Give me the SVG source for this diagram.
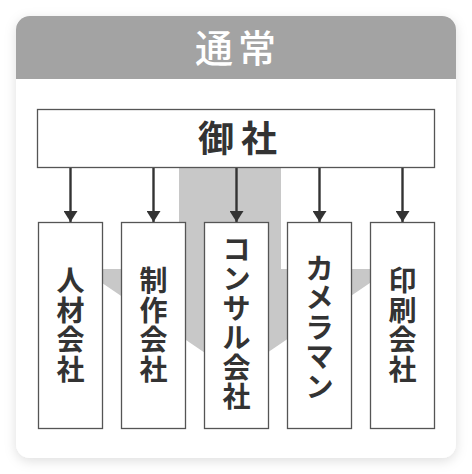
<svg xmlns="http://www.w3.org/2000/svg" width="472" height="474" viewBox="0 0 472 474">
<style>
.box{fill:#fff;stroke:#555;stroke-width:1.3}
.lbl{font-family:"Noto Sans CJK JP","Noto Sans CJK SC",sans-serif;font-weight:700;fill:#333;text-anchor:middle}
.v{font-size:28px}
.conn{stroke:#333;stroke-width:2.4;fill:none}
</style>
<defs>
<filter id="sh" x="-10%" y="-10%" width="120%" height="120%">
<feDropShadow dx="0" dy="3" stdDeviation="6" flood-color="#000" flood-opacity="0.13"/>
</filter>
<marker id="ah" markerUnits="userSpaceOnUse" markerWidth="16" markerHeight="14" viewBox="0 0 16 14" refX="11" refY="7" orient="auto">
<path d="M0,0 L11,7 L0,14 Z" fill="#333"/>
</marker>
</defs>
<rect width="472" height="474" fill="#fff"/>
<g id="card">
<rect x="16" y="16" width="440" height="442" rx="14" fill="#fff" filter="url(#sh)"/>
<path d="M16,79 V30 A14,14 0 0 1 30,16 H442 A14,14 0 0 1 456,30 V79 Z" fill="#a3a3a3"/>
<text class="lbl" x="214 257" y="62.3" style="font-size:38px;fill:#fff;font-weight:500">通常</text>
</g>
<polygon id="bigarrow" points="179,167 281,167 281,269 390.5,269 236,374 81.5,269 179,269" fill="#c8c8c8"/>
<g id="connectors">
<line class="conn" x1="70.5" y1="167" x2="70.5" y2="222" marker-end="url(#ah)"/>
<line class="conn" x1="153.5" y1="167" x2="153.5" y2="222" marker-end="url(#ah)"/>
<line class="conn" x1="236.5" y1="167" x2="236.5" y2="222" marker-end="url(#ah)"/>
<line class="conn" x1="319.5" y1="167" x2="319.5" y2="222" marker-end="url(#ah)"/>
<line class="conn" x1="402.5" y1="167" x2="402.5" y2="222" marker-end="url(#ah)"/>
</g>
<g id="node-gosha">
<rect class="box" x="37.5" y="109.5" width="397" height="58"/>
<text class="lbl" x="216 259" y="152.4" style="font-size:36px">御社</text>
</g>
<g id="node-jinzai">
<rect class="box" x="38.5" y="222.5" width="64" height="206"/>
<text class="lbl v" x="70.5 70.5 70.5 70.5" y="291.4 320.9 350.4 379.9">人材会社</text>
</g>
<g id="node-seisaku">
<rect class="box" x="121.5" y="222.5" width="64" height="206"/>
<text class="lbl v" x="153.5 153.5 153.5 153.5" y="291.4 320.9 350.4 379.9">制作会社</text>
</g>
<g id="node-consul">
<rect class="box" x="204.5" y="222.5" width="64" height="206"/>
<text class="lbl v" x="236.5 236.5 236.5 236.5 236.5 236.5" y="259.9 289.4 318.9 348.4 377.9 407.4">コンサル会社</text>
</g>
<g id="node-camera">
<rect class="box" x="287.5" y="222.5" width="64" height="206"/>
<text class="lbl v" x="319.5 319.5 319.5 319.5 319.5" y="278.6 308.1 337.6 367.1 396.6">カメラマン</text>
</g>
<g id="node-insatsu">
<rect class="box" x="370.5" y="222.5" width="64" height="206"/>
<text class="lbl v" x="402.5 402.5 402.5 402.5" y="291.4 320.9 350.4 379.9">印刷会社</text>
</g>
</svg>
